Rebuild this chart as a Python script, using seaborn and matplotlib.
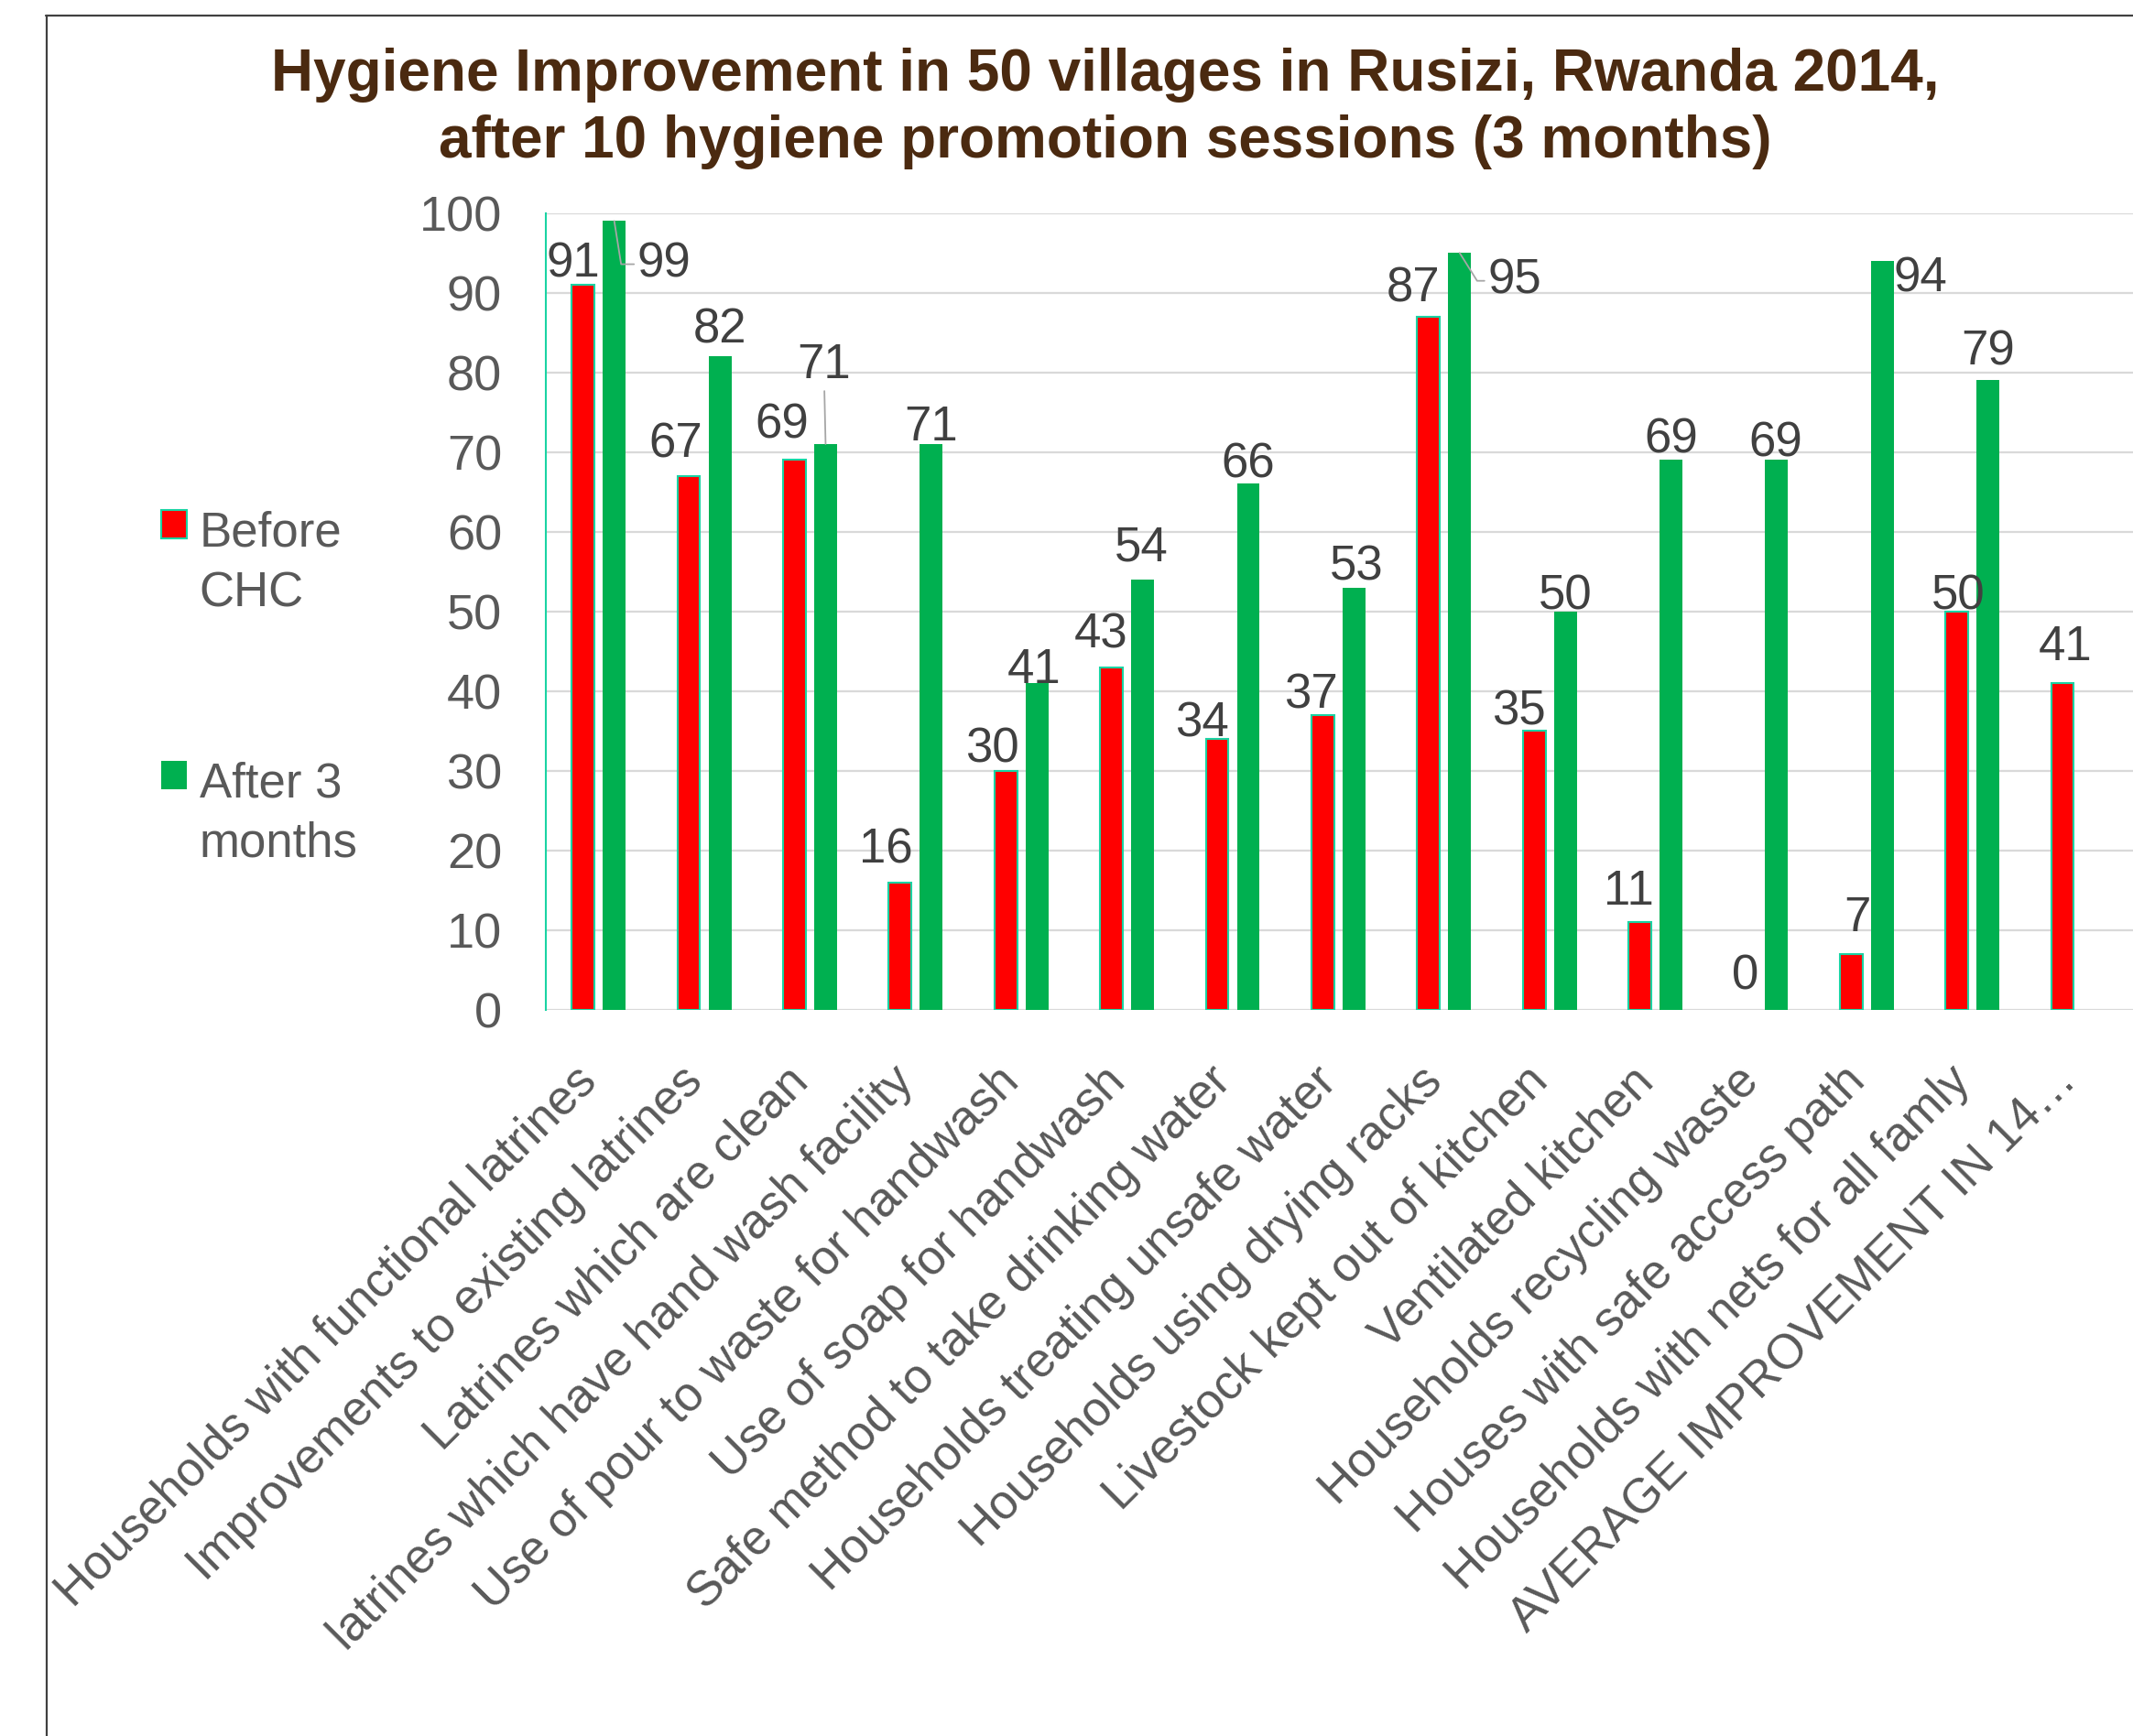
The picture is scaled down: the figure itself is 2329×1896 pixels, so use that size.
import pandas as pd
import matplotlib
matplotlib.use('Agg')
import matplotlib.pyplot as plt
import seaborn as sns
from matplotlib.lines import Line2D
from matplotlib.offsetbox import HPacker, DrawingArea
from matplotlib.ticker import MultipleLocator

# Data
categories = [
    'Households with functional latrines',
    'Improvements to existing latrines',
    'Latrines which are clean',
    'latrines which have hand wash facility',
    'Use of pour to waste for handwash',
    'Use of soap for handwash',
    'Safe method to take drinking water',
    'Households treating unsafe water',
    'Households using drying racks',
    'Livestock kept out of kitchen',
    'Ventilated kitchen',
    'Households recycling waste',
    'Houses with safe access path',
    'Households with nets for all famly',
    'AVERAGE IMPROVEMENT IN 14\u2026',
]
before_chc = [91, 67, 69, 16, 30, 43, 34, 37, 87, 35, 11, 0, 7, 50, 41]
after_3_months = [99, 82, 71, 71, 41, 54, 66, 53, 95, 50, 69, 69, 94, 79, None]
series_names = ['Before\nCHC', 'After 3\nmonths']

title_lines = ['Hygiene Improvement in 50 villages in Rusizi, Rwanda 2014,',
               'after 10 hygiene promotion sessions (3 months)']

# Colours
RED = '#FF0000'
GREEN = '#00B050'
TEAL = '#1AD3A3'
LABEL_GREY = '#404040'
TICK_GREY = '#595959'
GRID_GREY = '#D9D9D9'
BROWN = '#4B2A10'
LEADER = '#A6A6A6'
FS = 38

# label nudges (points) relative to bar top, like Excel's placed labels
red_nudge = [(-8, 20), (-10, 29), (-10, 31), (-11, 29), (-11, 21), (-8, 29), (-12, 16),
             (-9, 19), (-12, 26), (-12, 19), (-9, 28), (0, 30), (5, 32), (1, 16), (2, 32)]
green_nudge = [(39, -30), (0, 25), (-1, 66), (0, 17), (-2, 14), (-1, 29), (0, 19),
               (2, 20), (43, -18), (0, 16), (0, 20), (-1, 17), (30, -10), (0, 26)]
leaders = {
    (1, 0): ('angle,angleA=0,angleB=99,rad=0', (0, 0.5)),
    (1, 2): ('arc3,rad=0', (0.5, 0)),
    (1, 8): ('angle,angleA=0,angleB=122,rad=0', (0, 0.5)),
}

sns.set_style('white')
plt.rcParams['font.family'] = ['Liberation Sans', 'DejaVu Sans']

df = pd.DataFrame({
    'category': categories * 2,
    'series': [series_names[0]] * len(categories) + [series_names[1]] * len(categories),
    'value': before_chc + after_3_months,
}).dropna()

fig = plt.figure(figsize=(23.29, 18.96), dpi=100)
ax = fig.add_axes([0.2559, 0.4184, 0.7441, 0.4589])

sns.barplot(data=df, x='category', y='value', hue='series', order=categories,
            hue_order=series_names, palette=[RED, GREEN], saturation=1,
            width=0.59, gap=0.27, errorbar=None, legend=False, ax=ax)

for bar in ax.containers[0]:
    if bar.get_height() > 0:
        bar.set_edgecolor(TEAL)
        bar.set_linewidth(1.5)
    else:
        bar.set_linewidth(0)
for bar in ax.containers[1]:
    bar.set_linewidth(0)

ax.set_ylim(0, 100)
ax.set_xlim(-0.5, 14.52)
ax.yaxis.set_major_locator(MultipleLocator(10))
ax.yaxis.set_minor_locator(MultipleLocator(2))
ax.grid(axis='y', which='major', color=GRID_GREY, linewidth=1.6)
ax.grid(axis='x', visible=False)
ax.set_axisbelow(True)
for side in ['top', 'right', 'bottom']:
    ax.spines[side].set_visible(False)
ax.spines['left'].set_color(TEAL)
ax.spines['left'].set_linewidth(1.5)

ax.tick_params(axis='y', which='major', direction='inout', length=20, width=1.5,
               color=TEAL, labelsize=39, labelcolor=TICK_GREY, pad=24.5)
ax.tick_params(axis='y', which='minor', direction='in', length=8.5, width=1.5, color=TEAL)
ax.tick_params(axis='x', length=0, pad=58, labelsize=FS, labelcolor=TICK_GREY)
ax.set_xticks(range(len(categories)))
ax.set_xticklabels(categories, rotation=45, ha='right', va='baseline', rotation_mode='anchor')
ax.set_xlabel('')
ax.set_ylabel('')

# data labels
for s, (container, nudges) in enumerate(zip(ax.containers, [red_nudge, green_nudge])):
    for i, (bar, (dx, dy)) in enumerate(zip(container, nudges)):
        v = bar.get_height()
        x = bar.get_x() + bar.get_width() / 2
        kw = {}
        if (s, i) in leaders:
            style, rel = leaders[(s, i)]
            kw['arrowprops'] = dict(arrowstyle='-', color=LEADER, lw=1.3,
                                    connectionstyle=style, relpos=rel,
                                    shrinkA=0, shrinkB=0)
        ax.annotate(f'{int(v)}', xy=(x, v), xytext=(dx, dy - 4), textcoords='offset points',
                    ha='center', va='center', fontsize=FS, color=LABEL_GREY,
                    annotation_clip=False, **kw)

# legend on the left
leg = fig.legend(handles=[ax.containers[0], ax.containers[1]], labels=series_names,
                 loc='upper left', bbox_to_anchor=(0.0756, 0.706), frameon=False,
                 fontsize=FS, handlelength=0.52, handleheight=0.52, handletextpad=0.27,
                 labelspacing=3.0, borderpad=0, borderaxespad=0)
for t in leg.get_texts():
    t.set_color(TICK_GREY)
    t.set_linespacing(1.4)
for box in leg.findobj(HPacker):
    if any(isinstance(c, DrawingArea) for c in box.get_children()):
        box.align = 'top'

# two-line title
fig.text(0.518, 1 - 99 / 1896, title_lines[0], ha='center', va='baseline', fontsize=46,
         fontweight='bold', color=BROWN)
fig.text(0.518, 1 - 172 / 1896, title_lines[1], ha='center', va='baseline', fontsize=46,
         fontweight='bold', color=BROWN)

# chart frame (top and left edges visible)
fig.add_artist(Line2D([50 / 2329, 1.0], [1 - 17 / 1896] * 2, transform=fig.transFigure,
                      color='#404040', lw=1.6))
fig.add_artist(Line2D([51 / 2329] * 2, [0, 1 - 17 / 1896], transform=fig.transFigure,
                      color='#404040', lw=1.6))

fig.savefig('out.png', dpi=100)
